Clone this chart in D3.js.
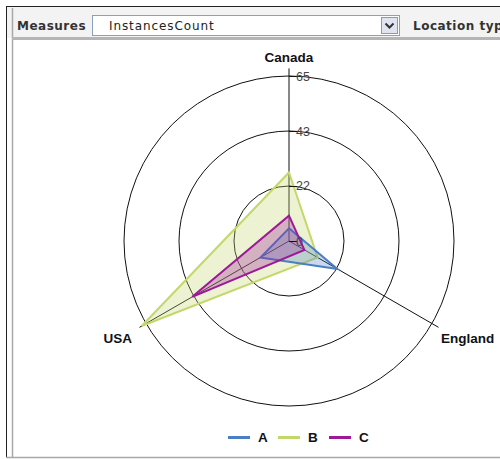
<!DOCTYPE html>
<html>
<head>
<meta charset="utf-8">
<script src="https://cdn.jsdelivr.net/npm/d3@7"></script>
<style>
  html, body { margin: 0; padding: 0; background: #fff; }
  svg { display: block; }
</style>
</head>
<body>
<script>
// Radar chart: InstancesCount per location, three series
const locations = ["Canada", "England", "USA"];
const seriesNames = ["A", "B", "C"];
const valuesA = [5, 22, 13];
const valuesB = [27, 13, 67];
const valuesC = [10, 7, 44];
const tickValues = [0, 21.67, 43.33, 65];
const tickLabels = ["0", "22", "43", "65"];
const colors = ["#4a7fc4", "#c3d86b", "#9c1a98"];

const W = 500, H = 459;
const cx = 289, cy = 241;

const svg = d3.select("body").append("svg").attr("width", W).attr("height", H);

// panel frame
svg.append("rect").attr("x", 0).attr("y", 0).attr("width", W).attr("height", H).attr("fill", "#fff");
svg.append("rect").attr("x", 6.5).attr("y", 6.5).attr("width", W).attr("height", 451)
  .attr("fill", "none").attr("stroke", "#222").attr("stroke-width", 1);
// toolbar
svg.append("rect").attr("x", 7).attr("y", 7).attr("width", W).attr("height", 31).attr("fill", "#f3f3f3");
svg.append("line").attr("x1", 12.5).attr("x2", 12.5).attr("y1", 8).attr("y2", 457)
  .attr("stroke", "#a8a8a8").attr("stroke-width", 1.5);
svg.append("rect").attr("x", 12).attr("y", 37).attr("width", W).attr("height", 3).attr("fill", "#b5b5b5");
svg.append("line").attr("x1", 6).attr("x2", W).attr("y1", 457.5).attr("y2", 457.5)
  .attr("stroke", "#a8a8a8").attr("stroke-width", 1.5);

const uiFont = "DejaVu Sans, Verdana, sans-serif";
svg.append("text").attr("x", 17).attr("y", 30).text("Measures")
  .attr("font-family", uiFont).attr("font-weight", "bold")
  .attr("font-size", 12).attr("letter-spacing", 0.5).attr("fill", "#333");
svg.append("rect").attr("x", 92.5).attr("y", 15.5).attr("width", 307).attr("height", 20)
  .attr("fill", "#fff").attr("stroke", "#8aa0bb");
svg.append("text").attr("x", 109).attr("y", 30).text("InstancesCount")
  .attr("font-family", uiFont).attr("font-size", 12).attr("letter-spacing", 0.9).attr("fill", "#222");
svg.append("rect").attr("x", 381.5).attr("y", 17.5).attr("width", 16).attr("height", 16)
  .attr("fill", "#dfe4ee").attr("stroke", "#8a99b5");
svg.append("path").attr("d", "M385.5,23.5 L389.5,27.5 L393.5,23.5")
  .attr("fill", "none").attr("stroke", "#333").attr("stroke-width", 2);
svg.append("text").attr("x", 413).attr("y", 30).text("Location type")
  .attr("font-family", uiFont).attr("font-weight", "bold")
  .attr("font-size", 12).attr("letter-spacing", 0.5).attr("fill", "#333");

const r = d3.scaleLinear().domain([0, 65]).range([0, 165]);
const angle = d3.scalePoint().domain(locations).range([0, 2 * Math.PI * 2 / 3]);
const px = (loc, v) => cx + r(v) * Math.sin(angle(loc));
const py = (loc, v) => cy - r(v) * Math.cos(angle(loc));

const g = svg.append("g");

// rings
g.selectAll("circle.ring").data(tickValues.slice(1)).join("circle")
  .attr("cx", cx).attr("cy", cy).attr("r", d => r(d))
  .attr("fill", "none").attr("stroke", "#111").attr("stroke-width", 1);

// spokes
g.selectAll("line.spoke").data(locations).join("line")
  .attr("x1", cx).attr("y1", cy)
  .attr("x2", d => px(d, 68)).attr("y2", d => py(d, 68))
  .attr("stroke", "#111").attr("stroke-width", 1);

// series polygons
const seriesData = [
  { name: "B", values: valuesB, color: colors[1] },
  { name: "A", values: valuesA, color: colors[0] },
  { name: "C", values: valuesC, color: colors[2] }
];
const line = d3.line().curve(d3.curveLinearClosed);
seriesData.forEach(s => {
  const pts = locations.map((loc, i) => [px(loc, s.values[i]), py(loc, s.values[i])]);
  g.append("path").attr("d", line(pts))
    .attr("fill", s.color).attr("fill-opacity", 0.3)
    .attr("stroke", s.color).attr("stroke-width", 2).attr("stroke-linejoin", "miter");
});

// radial axis ticks and labels
tickValues.forEach((t, i) => {
  g.append("line").attr("x1", cx).attr("x2", cx + 8)
    .attr("y1", cy - r(t) + 0.5).attr("y2", cy - r(t) + 0.5)
    .attr("stroke", "#111");
  g.append("text").attr("x", cx + 7).attr("y", cy - r(t) + 4.5).text(tickLabels[i])
    .attr("font-family", "Liberation Sans, Arial, sans-serif").attr("font-size", 12.5)
    .attr("fill", "#444");
});

// location labels
const lblFont = "Liberation Sans, Arial, sans-serif";
g.append("text").attr("x", cx).attr("y", 62).attr("text-anchor", "middle").text(locations[0])
  .attr("font-family", lblFont).attr("font-weight", "bold").attr("font-size", 13.5).attr("fill", "#111");
g.append("text").attr("x", 441).attr("y", 343).text(locations[1])
  .attr("font-family", lblFont).attr("font-weight", "bold").attr("font-size", 13.5).attr("fill", "#111");
g.append("text").attr("x", 132).attr("y", 343).attr("text-anchor", "end").text(locations[2])
  .attr("font-family", lblFont).attr("font-weight", "bold").attr("font-size", 13.5).attr("fill", "#111");

// legend
const legX = [228, 278, 329];
seriesNames.forEach((n, i) => {
  svg.append("line").attr("x1", legX[i]).attr("x2", legX[i] + 22).attr("y1", 437.5).attr("y2", 437.5)
    .attr("stroke", colors[i]).attr("stroke-width", 3);
  svg.append("text").attr("x", legX[i] + 30).attr("y", 442).text(n)
    .attr("font-family", lblFont).attr("font-weight", "bold").attr("font-size", 13.5).attr("fill", "#111");
});
</script>
</body>
</html>
